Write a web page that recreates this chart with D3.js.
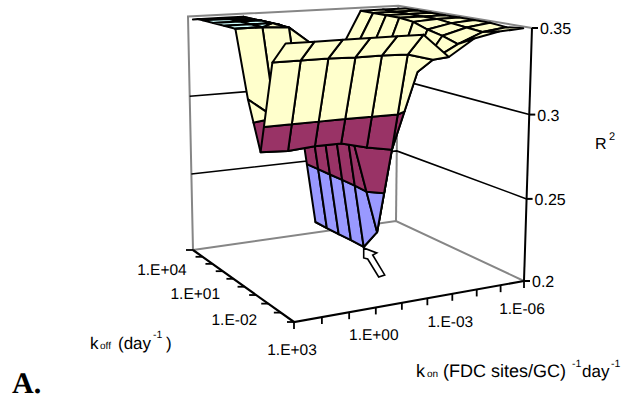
<!DOCTYPE html>
<html>
<head>
<meta charset="utf-8">
<style>
  body { margin: 0; background: #fff; }
  svg { display: block; }
  text { font-family: "Liberation Sans", Arial, sans-serif; fill: #000; text-rendering: geometricPrecision; }
</style>
</head>
<body>
<div id="chart-area"></div>
<script src="https://cdnjs.cloudflare.com/ajax/libs/d3/7.8.5/d3.min.js"></script>
<script>
const width = 623;
const height = 400;

// kon runs along the columns, koff along the rows (front row first)
const konLabels = ["1.E+03", "1.E+02", "1.E+01", "1.E+00", "1.E-01", "1.E-02", "1.E-03", "1.E-04", "1.E-05", "1.E-06"];
const koffLabels = ["1.E-04", "1.E-03", "1.E-02", "1.E-01", "1.E+00", "1.E+01", "1.E+02", "1.E+03", "1.E+04"];
const zTicks = [0.2, 0.25, 0.3, 0.35];
const zBands = [0.2, 0.25, 0.3, 0.35, Infinity];
const bandColors = ["#9999ff", "#993366", "#ffffcc", "#ccffff"];

const r2 = [
  [.349, .349, .349, .349, .349, .349, .3356, .345, .348, .349],
  [.337, .337, .337, .3365, .3365, .336, .332, .34, .346, .348],
  [.285, .284, .285, .285, .281, .278, .3227, .343, .347, .349],
  [.312, .30, .30, .29, .282, .224, .3097, .345, .348, .349],
  [.350, .350, .349, .337, .313, .2103, .305, .348, .349, .349],
  [.356, .355, .349, .340, .315, .2104, .31, .349, .349, .349],
  [.356, .355, .349, .344, .316, .21, .315, .349, .349, .349],
  [.351, .350, .349, .345, .317, .2099, .32, .349, .349, .349],
  [.349, .349, .349, .344, .318, .2099, .321, .349, .349, .349]
];

// arrow shape, relative to the lowest point of the surface
const arrowShape = [[0, 1], [0, 11], [4, 12], [15, 30], [21, 28], [9, 8], [13, 6]];

const svg = d3.select("#chart-area").append("svg")
  .attr("width", width)
  .attr("height", height);

const uScale = d3.scaleLinear().domain([0, konLabels.length - 1]).range([0, 1]);
const vScale = d3.scaleLinear().domain([0, koffLabels.length]).range([0, 1]);
const wScale = d3.scaleLinear().domain([0.2, 0.35]).range([0, 1]).clamp(true);

// perspective camera worked out from the corners of the box
const F = [294, 322], R = [524, 281], B = [396, 221], L = [193, 250];
const RT = [532, 28], LT = [188, 16];
const camera = (function () {
  const dx1 = R[0] - B[0], dx2 = L[0] - B[0], sx = F[0] - R[0] + B[0] - L[0];
  const dy1 = R[1] - B[1], dy2 = L[1] - B[1], sy = F[1] - R[1] + B[1] - L[1];
  const det = dx1 * dy2 - dx2 * dy1;
  const g = (sx * dy2 - dx2 * sy) / det;
  const h = (dx1 * sy - sx * dy1) / det;
  const a = R[0] - F[0] + g * R[0], b = L[0] - F[0] + h * L[0];
  const d = R[1] - F[1] + g * R[1], e = L[1] - F[1] + h * L[1];
  const r = (LT[0] * (1 + h) - (b + F[0]) - RT[0] * (1 + g) + (a + F[0])) / (RT[0] - LT[0]);
  const p = RT[0] * (1 + g + r) - (a + F[0]);
  const q = RT[1] * (1 + g + r) - (d + F[1]);
  return { a, b, d, e, g, h, p, q, r };
})();

function project(u, v, w) {
  const c = camera;
  const den = 1 + c.g * u + c.h * v + c.r * w;
  return [
    (c.a * u + c.b * v + F[0] + c.p * w) / den,
    (c.d * u + c.e * v + F[1] + c.q * w) / den
  ];
}

const line = d3.line();
const wallColor = "#868686";

function seg(points, color, sw, cls) {
  svg.append("path")
    .attr("class", cls)
    .attr("d", line(points))
    .attr("fill", "none")
    .attr("stroke", color)
    .attr("stroke-width", sw);
}

// back walls
seg([project(0, 1, 0), project(0, 1, 1), project(1, 1, 1), project(1, 0, 1)], wallColor, 2, "wall");
seg([project(0, 1, 0), project(1, 1, 0), project(1, 0, 0)], wallColor, 2, "wall");
seg([project(1, 1, 0), project(1, 1, 1)], wallColor, 2, "wall");

// gridlines on the walls
zTicks.slice(1, 3).forEach(z => {
  const w = wScale(z);
  seg([project(0, 1, w), project(1, 1, w), project(1, 0, w)], "#000", 1.6, "grid");
});

// clip one cell to one colour band
function clipBand(poly, lo, hi) {
  function clip(pts, keep, level) {
    const out = [];
    pts.forEach((p, k) => {
      const q = pts[(k + 1) % pts.length];
      if (keep(p[2])) out.push(p);
      if (keep(p[2]) !== keep(q[2])) {
        const t = (level - p[2]) / (q[2] - p[2]);
        out.push([p[0] + t * (q[0] - p[0]), p[1] + t * (q[1] - p[1]), level]);
      }
    });
    return out;
  }
  let res = clip(poly, z => z >= lo, lo);
  if (res.length && hi !== Infinity) res = clip(res, z => z <= hi, hi);
  return res;
}

// surface, painted from the back corner forward
const surface = svg.append("g").attr("class", "surface");
for (let j = r2.length - 2; j >= 0; j--) {
  for (let i = konLabels.length - 2; i >= 0; i--) {
    const cell = [[i, j], [i + 1, j], [i + 1, j + 1], [i, j + 1]]
      .map(c => [uScale(c[0]), vScale(c[1] + 0.5), r2[c[1]][c[0]]]);
    bandColors.forEach((color, b) => {
      const part = clipBand(cell, zBands[b], zBands[b + 1]);
      if (part.length < 3) return;
      surface.append("path")
        .attr("d", line(part.map(p => project(p[0], p[1], wScale(p[2])))) + "Z")
        .attr("fill", color)
        .attr("stroke", "#000")
        .attr("stroke-width", 2)
        .attr("stroke-linejoin", "round");
    });
  }
}

// axes
seg([project(1, 0, 0), project(1, 0, 1)], "#000", 2, "axis");
seg([project(0, 1, 0), project(0, 0, 0), project(1, 0, 0)], "#000", 2.2, "axis");

zTicks.forEach(z => {
  const p = project(1, 0, wScale(z));
  seg([[p[0], p[1]], [p[0] + 6, p[1]]], "#000", 2, "tick");
  svg.append("text")
    .attr("x", p[0] + 8)
    .attr("y", p[1] + 6)
    .attr("font-size", 16)
    .text(z);
});

konLabels.forEach((lab, i) => {
  const p = project(uScale(i), 0, 0);
  seg([p, [p[0], p[1] + 7]], "#000", 1.8, "tick");
  if (i % 3 === 0) {
    svg.append("text")
      .attr("x", p[0] - 2)
      .attr("y", p[1] + 33)
      .attr("text-anchor", "middle")
      .attr("font-size", 15.5)
      .text(lab);
  }
});

d3.range(koffLabels.length + 1).forEach(k => {
  const p = project(0, vScale(k), 0);
  seg([p, [p[0] - 7, p[1]]], "#000", 1.8, "tick");
});
koffLabels.forEach((lab, j) => {
  if ((j + 1) % 3 !== 0) return;
  const p = project(0, vScale(j + 0.5), 0);
  svg.append("text")
    .attr("x", p[0] - 3 - j)
    .attr("y", p[1] + 27 - 0.67 * j)
    .attr("text-anchor", "end")
    .attr("font-size", 15.5)
    .text(lab);
});

// arrow at the minimum
const tip = project(uScale(5), vScale(4.5), wScale(r2[4][5]));
svg.append("path")
  .attr("d", line(arrowShape.map(s => [tip[0] + s[0], tip[1] + s[1]])) + "Z")
  .attr("fill", "#fff")
  .attr("stroke", "#000")
  .attr("stroke-width", 1.6);

// axis titles, pieced together as in the original
function label(parts) {
  parts.forEach(t => {
    svg.append("text")
      .attr("x", t[1])
      .attr("y", t[2])
      .attr("font-size", t[3])
      .text(t[0]);
  });
}
label([["k", 90, 349, 17], ["off", 100, 349, 10], ["(day", 118, 349, 17], ["-1", 153, 338, 10.5], [")", 166, 349, 17]]);
label([["k", 416, 377, 18], ["on", 427, 377, 10], ["(FDC sites/GC)", 443, 377, 18], ["-1", 572, 367, 10.5], ["day", 582, 377, 17], ["-1", 611, 367, 10.5]]);
label([["R", 595, 149, 16], ["2", 609, 140, 11]]);

svg.append("text")
  .attr("x", 12)
  .attr("y", 393)
  .attr("font-size", 30)
  .attr("font-weight", "bold")
  .style("font-family", "'Liberation Serif', serif")
  .text("A.");
</script>
</body>
</html>
